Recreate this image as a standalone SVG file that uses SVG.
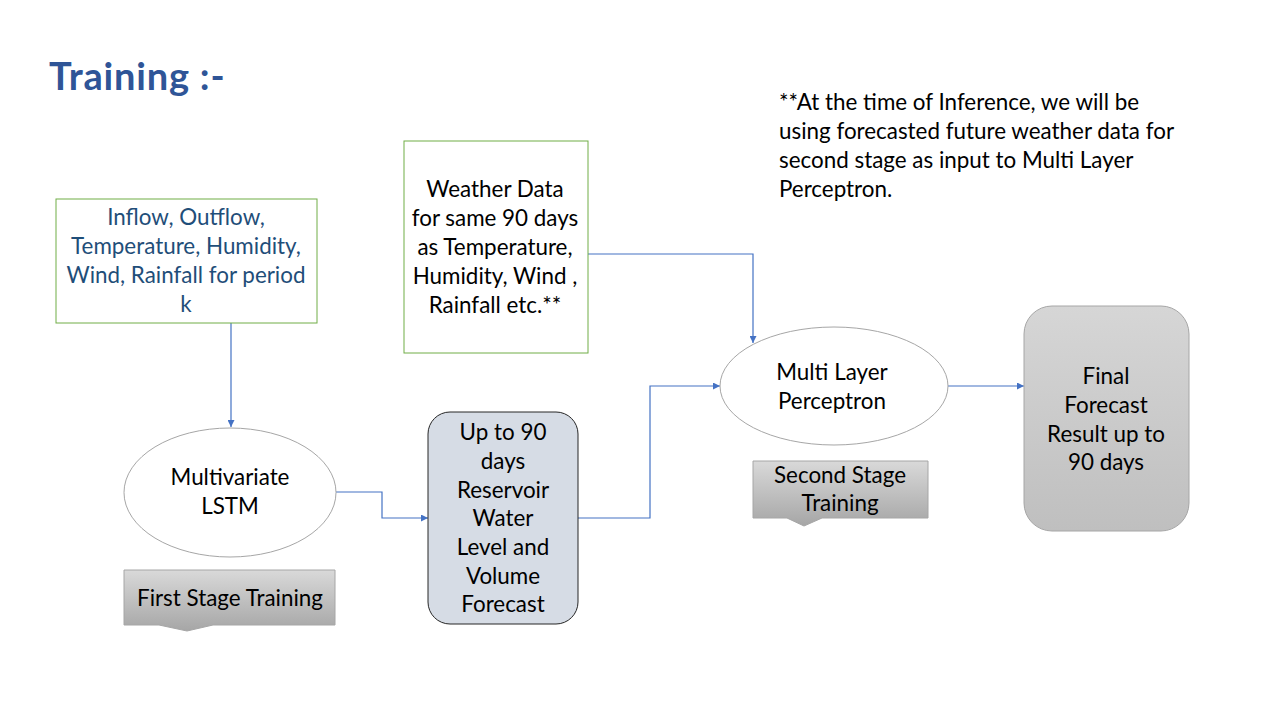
<svg xmlns="http://www.w3.org/2000/svg" width="1280" height="720" viewBox="0 0 1280 720">
  <defs>
    <style>
      .t { font-family: Lato, "Open Sans", "Liberation Sans", sans-serif; font-size: 22.4px; fill: #000000; text-anchor: middle; }
      .blue { fill: #1F4E79; }
      .greenbox { fill: #FFFFFF; stroke: #70AD47; stroke-width: 1; }
      .ell { fill: #FFFFFF; stroke: #A6A6A6; stroke-width: 1; }
      .conn { fill: none; stroke: #4472C4; stroke-width: 1.2; }
      .callout { fill: url(#calloutGrad); stroke: #A6A6A6; stroke-width: 1; }
    </style>
    <linearGradient id="calloutGrad" x1="0" y1="0" x2="0" y2="1">
      <stop offset="0" stop-color="#D9D9D9"/>
      <stop offset="1" stop-color="#A6A6A6"/>
    </linearGradient>
    <linearGradient id="finalGrad" x1="0" y1="0" x2="0" y2="1">
      <stop offset="0" stop-color="#D6D6D6"/>
      <stop offset="1" stop-color="#BFBFBF"/>
    </linearGradient>
    <marker id="arr" viewBox="0 0 10 10" refX="10" refY="5" markerWidth="7" markerHeight="7" markerUnits="userSpaceOnUse" orient="auto">
      <path d="M0,0 L10,5 L0,10 Z" fill="#4472C4"/>
    </marker>
  </defs>

  <rect x="0" y="0" width="1280" height="720" fill="#FFFFFF"/>

  <g id="title">
    <text x="49" y="90" font-family="Lato, 'Open Sans', 'Liberation Sans', sans-serif" font-size="38" font-weight="bold" letter-spacing="0.8" fill="#2F5597">Training :-</text>
  </g>

  <g id="note">
    <text class="t" style="text-anchor:start" x="779" y="110">**At the time of Inference, we will be</text>
    <text class="t" style="text-anchor:start" x="779" y="139">using forecasted future weather data for</text>
    <text class="t" style="text-anchor:start" x="779" y="168">second stage as input to Multi Layer</text>
    <text class="t" style="text-anchor:start" x="779" y="197">Perceptron.</text>
  </g>

  <g id="connectors">
    <path class="conn" d="M231,323 L231,427" marker-end="url(#arr)"/>
    <path class="conn" d="M336,492 L382,492 L382,518 L428,518" marker-end="url(#arr)"/>
    <path class="conn" d="M578,518 L650,518 L650,386 L720,386" marker-end="url(#arr)"/>
    <path class="conn" d="M588,254 L753,254 L753,343" marker-end="url(#arr)"/>
    <path class="conn" d="M948,386 L1024,386" marker-end="url(#arr)"/>
  </g>

  <g id="input-box">
    <rect class="greenbox" x="56" y="199" width="261" height="124"/>
    <text class="t blue" x="186" y="225">Inflow, Outflow,</text>
    <text class="t blue" x="186" y="254">Temperature, Humidity,</text>
    <text class="t blue" x="186" y="283">Wind, Rainfall for period</text>
    <text class="t blue" x="186" y="312">k</text>
  </g>

  <g id="weather-box">
    <rect class="greenbox" x="404" y="141" width="184" height="212"/>
    <text class="t" x="495" y="197">Weather Data</text>
    <text class="t" x="495" y="226">for same 90 days</text>
    <text class="t" x="495" y="255">as Temperature,</text>
    <text class="t" x="495" y="284">Humidity, Wind ,</text>
    <text class="t" x="495" y="313">Rainfall etc.**</text>
  </g>

  <g id="lstm">
    <ellipse class="ell" cx="230" cy="492.5" rx="106" ry="64.5"/>
    <text class="t" x="230" y="485">Multivariate</text>
    <text class="t" x="230" y="514">LSTM</text>
  </g>

  <g id="first-stage">
    <path class="callout" d="M124,570 L335,570 L335,625 L213,625 L187,631 L159,625 L124,625 Z"/>
    <text class="t" x="230" y="606">First Stage Training</text>
  </g>

  <g id="forecast-box">
    <rect x="428" y="412" width="150" height="212" rx="22" ry="22" fill="#D6DCE5" stroke="#262626" stroke-width="1"/>
    <text class="t" x="503" y="440">Up to 90</text>
    <text class="t" x="503" y="469">days</text>
    <text class="t" x="503" y="498">Reservoir</text>
    <text class="t" x="503" y="526">Water</text>
    <text class="t" x="503" y="555">Level and</text>
    <text class="t" x="503" y="584">Volume</text>
    <text class="t" x="503" y="612">Forecast</text>
  </g>

  <g id="mlp">
    <ellipse class="ell" cx="834" cy="386" rx="114" ry="59"/>
    <text class="t" x="832" y="380">Multi Layer</text>
    <text class="t" x="832" y="409">Perceptron</text>
  </g>

  <g id="second-stage">
    <path class="callout" d="M753,461 L928,461 L928,518 L822,518 L804,526 L787,518 L753,518 Z"/>
    <text class="t" x="840" y="483">Second Stage</text>
    <text class="t" x="840" y="511">Training</text>
  </g>

  <g id="final-box">
    <rect x="1024" y="306" width="165" height="225" rx="28" ry="28" fill="url(#finalGrad)" stroke="#A6A6A6" stroke-width="1"/>
    <text class="t" x="1106" y="384">Final</text>
    <text class="t" x="1106" y="413">Forecast</text>
    <text class="t" x="1106" y="442">Result up to</text>
    <text class="t" x="1106" y="470">90 days</text>
  </g>
</svg>
